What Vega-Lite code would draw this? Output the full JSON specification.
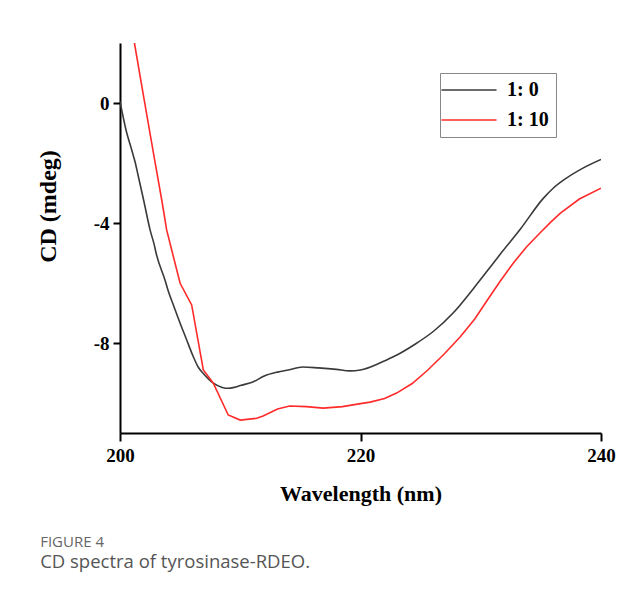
{
  "$schema": "https://vega.github.io/schema/vega-lite/v6.json",
  "width": 481,
  "height": 390,
  "padding": {"left": 36, "top": 43, "right": 5, "bottom": 5},
  "autosize": {"type": "pad"},
  "background": "white",
  "config": {
    "view": {"stroke": null},
    "font": "Liberation Serif",
    "axis": {
      "grid": false,
      "domainColor": "black",
      "domainWidth": 2,
      "tickColor": "black",
      "tickWidth": 2,
      "tickSize": 8,
      "labelFont": "Liberation Serif",
      "labelFontWeight": "bold",
      "labelFontSize": 19,
      "labelColor": "black",
      "titleFont": "Liberation Serif",
      "titleFontWeight": "bold",
      "titleFontSize": 22,
      "titleColor": "black"
    }
  },
  "title": {
    "text": "FIGURE 4",
    "subtitle": "CD spectra of tyrosinase-RDEO.",
    "orient": "bottom",
    "anchor": "start",
    "frame": "bounds",
    "dx": 4,
    "font": "Open Sans",
    "fontSize": 15,
    "fontWeight": "normal",
    "color": "#666666",
    "subtitleFont": "Open Sans",
    "subtitleFontSize": 18.5,
    "subtitleColor": "#555555",
    "subtitlePadding": 3,
    "offset": 31
  },
  "data": {
    "values": [
      {"wl": 200.0, "cd": 0.05, "ratio": "1: 0"},
      {"wl": 200.5, "cd": -0.9, "ratio": "1: 0"},
      {"wl": 201.0, "cd": -1.6, "ratio": "1: 0"},
      {"wl": 201.25, "cd": -1.96, "ratio": "1: 0"},
      {"wl": 201.5, "cd": -2.4, "ratio": "1: 0"},
      {"wl": 202.0, "cd": -3.3, "ratio": "1: 0"},
      {"wl": 202.5, "cd": -4.23, "ratio": "1: 0"},
      {"wl": 202.85, "cd": -4.73, "ratio": "1: 0"},
      {"wl": 203.0, "cd": -5.0, "ratio": "1: 0"},
      {"wl": 203.74, "cd": -5.9, "ratio": "1: 0"},
      {"wl": 204.0, "cd": -6.25, "ratio": "1: 0"},
      {"wl": 204.5, "cd": -6.8, "ratio": "1: 0"},
      {"wl": 205.0, "cd": -7.34, "ratio": "1: 0"},
      {"wl": 205.5, "cd": -7.85, "ratio": "1: 0"},
      {"wl": 206.1, "cd": -8.46, "ratio": "1: 0"},
      {"wl": 206.5, "cd": -8.8, "ratio": "1: 0"},
      {"wl": 207.0, "cd": -9.05, "ratio": "1: 0"},
      {"wl": 207.76, "cd": -9.34, "ratio": "1: 0"},
      {"wl": 208.5, "cd": -9.48, "ratio": "1: 0"},
      {"wl": 209.0, "cd": -9.51, "ratio": "1: 0"},
      {"wl": 209.5, "cd": -9.48, "ratio": "1: 0"},
      {"wl": 210.0, "cd": -9.42, "ratio": "1: 0"},
      {"wl": 211.1, "cd": -9.29, "ratio": "1: 0"},
      {"wl": 212.0, "cd": -9.1, "ratio": "1: 0"},
      {"wl": 213.1, "cd": -8.97, "ratio": "1: 0"},
      {"wl": 214.0, "cd": -8.9, "ratio": "1: 0"},
      {"wl": 215.2, "cd": -8.8, "ratio": "1: 0"},
      {"wl": 216.5, "cd": -8.83, "ratio": "1: 0"},
      {"wl": 218.0, "cd": -8.88, "ratio": "1: 0"},
      {"wl": 219.1, "cd": -8.93, "ratio": "1: 0"},
      {"wl": 220.0, "cd": -8.9, "ratio": "1: 0"},
      {"wl": 221.6, "cd": -8.67, "ratio": "1: 0"},
      {"wl": 222.5, "cd": -8.5, "ratio": "1: 0"},
      {"wl": 223.3, "cd": -8.34, "ratio": "1: 0"},
      {"wl": 224.5, "cd": -8.05, "ratio": "1: 0"},
      {"wl": 226.1, "cd": -7.6, "ratio": "1: 0"},
      {"wl": 227.7, "cd": -7.0, "ratio": "1: 0"},
      {"wl": 229.4, "cd": -6.18, "ratio": "1: 0"},
      {"wl": 230.5, "cd": -5.62, "ratio": "1: 0"},
      {"wl": 231.6, "cd": -5.05, "ratio": "1: 0"},
      {"wl": 233.3, "cd": -4.2, "ratio": "1: 0"},
      {"wl": 235.2, "cd": -3.18, "ratio": "1: 0"},
      {"wl": 236.0, "cd": -2.85, "ratio": "1: 0"},
      {"wl": 237.1, "cd": -2.51, "ratio": "1: 0"},
      {"wl": 238.5, "cd": -2.17, "ratio": "1: 0"},
      {"wl": 240.0, "cd": -1.88, "ratio": "1: 0"},
      {"wl": 201.2, "cd": 2.0, "ratio": "1: 10"},
      {"wl": 201.94, "cd": 0.27, "ratio": "1: 10"},
      {"wl": 202.91, "cd": -1.96, "ratio": "1: 10"},
      {"wl": 203.5, "cd": -3.3, "ratio": "1: 10"},
      {"wl": 203.88, "cd": -4.23, "ratio": "1: 10"},
      {"wl": 204.3, "cd": -4.9, "ratio": "1: 10"},
      {"wl": 205.0, "cd": -6.01, "ratio": "1: 10"},
      {"wl": 205.96, "cd": -6.73, "ratio": "1: 10"},
      {"wl": 206.93, "cd": -8.9, "ratio": "1: 10"},
      {"wl": 207.76, "cd": -9.34, "ratio": "1: 10"},
      {"wl": 209.0, "cd": -10.4, "ratio": "1: 10"},
      {"wl": 210.0, "cd": -10.57, "ratio": "1: 10"},
      {"wl": 211.37, "cd": -10.51, "ratio": "1: 10"},
      {"wl": 211.9, "cd": -10.43, "ratio": "1: 10"},
      {"wl": 213.1, "cd": -10.2, "ratio": "1: 10"},
      {"wl": 214.1, "cd": -10.1, "ratio": "1: 10"},
      {"wl": 215.5, "cd": -10.12, "ratio": "1: 10"},
      {"wl": 216.9, "cd": -10.17, "ratio": "1: 10"},
      {"wl": 218.5, "cd": -10.12, "ratio": "1: 10"},
      {"wl": 220.0, "cd": -10.02, "ratio": "1: 10"},
      {"wl": 220.8, "cd": -9.97, "ratio": "1: 10"},
      {"wl": 222.0, "cd": -9.85, "ratio": "1: 10"},
      {"wl": 223.0, "cd": -9.67, "ratio": "1: 10"},
      {"wl": 224.3, "cd": -9.35, "ratio": "1: 10"},
      {"wl": 225.6, "cd": -8.9, "ratio": "1: 10"},
      {"wl": 227.0, "cd": -8.35, "ratio": "1: 10"},
      {"wl": 228.3, "cd": -7.79, "ratio": "1: 10"},
      {"wl": 229.5, "cd": -7.2, "ratio": "1: 10"},
      {"wl": 230.5, "cd": -6.6, "ratio": "1: 10"},
      {"wl": 231.6, "cd": -5.95, "ratio": "1: 10"},
      {"wl": 232.7, "cd": -5.34, "ratio": "1: 10"},
      {"wl": 233.8, "cd": -4.8, "ratio": "1: 10"},
      {"wl": 234.9, "cd": -4.34, "ratio": "1: 10"},
      {"wl": 235.8, "cd": -3.98, "ratio": "1: 10"},
      {"wl": 236.6, "cd": -3.68, "ratio": "1: 10"},
      {"wl": 238.2, "cd": -3.2, "ratio": "1: 10"},
      {"wl": 240.0, "cd": -2.84, "ratio": "1: 10"}
    ]
  },
  "encoding": {
    "x": {
      "field": "wl",
      "type": "quantitative",
      "scale": {"domain": [200, 240], "nice": false, "zero": false},
      "axis": {"values": [200, 220, 240], "title": "Wavelength (nm)", "labelFlush": false, "labelPadding": 5, "titlePadding": 18}
    },
    "y": {
      "field": "cd",
      "type": "quantitative",
      "scale": {"domain": [-11, 2], "nice": false, "zero": false},
      "axis": {"values": [0, -4, -8], "labelExpr": "datum.value + ''", "title": "CD (mdeg)", "titleFontSize": 24, "titleY": 163, "tickSize": 7, "labelPadding": 4, "titlePadding": 33}
    },
    "color": {
      "field": "ratio",
      "type": "nominal",
      "scale": {"domain": ["1: 0", "1: 10"], "range": ["#3a3a3a", "#ff2a2a"]},
      "legend": {
        "title": null,
        "orient": "none",
        "legendX": 320,
        "legendY": 30,
        "strokeColor": "#888888",
        "fillColor": "white",
        "padding": 7,
        "symbolType": "M-5,0H5",
        "symbolSize": 121,
        "symbolStrokeWidth": 1.5,
        "symbolOffset": 12,
        "labelFont": "Liberation Serif",
        "labelFontSize": 20,
        "labelFontWeight": "bold",
        "labelColor": "black",
        "labelOffset": 28,
        "rowPadding": 10
      }
    }
  },
  "layer": [
    {
      "transform": [{"filter": "datum.ratio === '1: 0'"}],
      "mark": {"type": "line", "strokeWidth": 1.6, "clip": true, "interpolate": "monotone"}
    },
    {
      "transform": [{"filter": "datum.ratio === '1: 10'"}],
      "mark": {"type": "line", "strokeWidth": 1.6, "clip": true, "interpolate": "linear"}
    }
  ]
}
